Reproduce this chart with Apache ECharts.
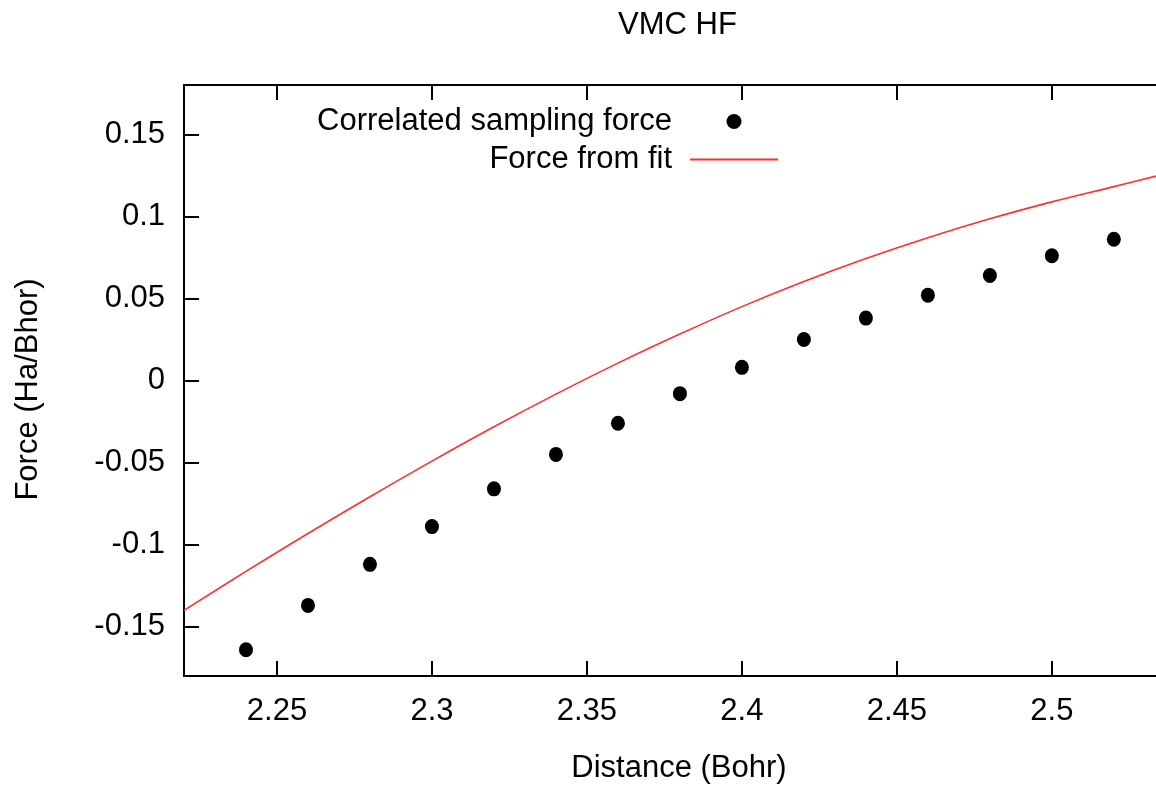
<!DOCTYPE html>
<html>
<head>
<meta charset="utf-8">
<script src="https://cdn.jsdelivr.net/npm/echarts@6/dist/echarts.min.js"></script>
<style>
  html, body { margin: 0; padding: 0; background: #fff; }
  #chart { width: 1156px; height: 789px; }
</style>
</head>
<body>
<div id="chart"></div>
<script>
// measured points (correlated sampling)
const sampleX = [2.24, 2.26, 2.28, 2.30, 2.32, 2.34, 2.36, 2.38, 2.40, 2.42, 2.44, 2.46, 2.48, 2.50, 2.52]
const sampleF = [-0.164, -0.137, -0.112, -0.089, -0.066, -0.045, -0.026, -0.008, 0.008, 0.025, 0.038, 0.052, 0.064, 0.076, 0.086]

// fitted force curve
const fitX = [2.22, 2.24, 2.26, 2.28, 2.30, 2.32, 2.34, 2.36, 2.38, 2.40, 2.42, 2.44, 2.46, 2.48, 2.50, 2.52, 2.5336]
const fitF = [-0.140, -0.1163, -0.0932, -0.0708, -0.0491, -0.0282, -0.0083, 0.0106, 0.0283, 0.045, 0.0603, 0.0743, 0.087, 0.0985, 0.1088, 0.1181, 0.1245]

// tick labels
const xTicks = [2.25, 2.3, 2.35, 2.4, 2.45, 2.5]
const yTicks = [-0.15, -0.1, -0.05, 0, 0.05, 0.1, 0.15]

const font = 'Liberation Sans, Helvetica, Arial, sans-serif'
const fs = 31

const chart = echarts.init(document.getElementById('chart'))

const axisLineStyle = { color: '#000', width: 2 }
const tickStyle = { color: '#000', width: 2 }

chart.setOption({
  animation: false,
  backgroundColor: '#fff',
  textStyle: { fontFamily: font },
  title: {
    text: 'VMC HF',
    left: 618,
    top: 10,
    padding: 0,
    textStyle: { fontFamily: font, fontSize: fs, fontWeight: 'normal', color: '#000' }
  },
  legend: {
    orient: 'vertical',
    align: 'right',
    right: 373,
    top: 101,
    itemWidth: 88,
    itemHeight: 15,
    itemGap: 7,
    textStyle: { fontFamily: font, fontSize: fs, color: '#000', padding: [0, 13, 0, 0] },
    data: [
      { name: 'Correlated sampling force', icon: 'circle', itemStyle: { color: '#000', opacity: 1 } },
      { name: 'Force from fit', icon: 'path://M0,0 L88,0 L88,2 L0,2 Z' }
    ]
  },
  grid: {
    left: 184,
    right: 0,
    top: 85,
    bottom: 113,
    containLabel: false,
    outerBoundsMode: 'none'
  },
  xAxis: [
    {
      type: 'value',
      min: 2.22,
      max: 2.5336,
      name: 'Distance (Bohr)',
      nameLocation: 'middle',
      nameGap: 77,
      nameTextStyle: { fontFamily: font, fontSize: fs, color: '#000', padding: [0, 0, 0, 18] },
      axisLine: { show: true, onZero: false, lineStyle: axisLineStyle },
      axisTick: { show: true, inside: true, length: 15, lineStyle: tickStyle, customValues: xTicks },
      axisLabel: { fontFamily: font, fontSize: fs, color: '#000', margin: 20, customValues: xTicks },
      splitLine: { show: false }
    },
    {
      type: 'value',
      position: 'top',
      min: 2.22,
      max: 2.5336,
      axisLine: { show: true, onZero: false, lineStyle: axisLineStyle },
      axisTick: { show: true, inside: true, length: 15, lineStyle: tickStyle, customValues: xTicks },
      axisLabel: { show: false },
      splitLine: { show: false }
    }
  ],
  yAxis: {
    type: 'value',
    min: -0.18,
    max: 0.18,
    name: 'Force (Ha/Bhor)',
    nameLocation: 'middle',
    nameRotate: 90,
    nameGap: 140,
    nameTextStyle: { fontFamily: font, fontSize: fs, color: '#000', padding: [0, 18, 0, 0] },
    axisLine: { show: true, onZero: false, lineStyle: axisLineStyle },
    axisTick: { show: true, inside: true, length: 15, lineStyle: tickStyle, customValues: yTicks },
    axisLabel: { fontFamily: font, fontSize: fs, color: '#000', margin: 19, customValues: yTicks },
    splitLine: { show: false }
  },
  series: [
    {
      name: 'Correlated sampling force',
      type: 'scatter',
      symbol: 'circle',
      symbolSize: [14, 15],
      itemStyle: { color: '#000', opacity: 1 },
      data: sampleX.map((x, i) => [x, sampleF[i]])
    },
    {
      name: 'Force from fit',
      type: 'line',
      symbol: 'none',
      smooth: 0.4,
      lineStyle: { color: '#ff3030', width: 1.6 },
      itemStyle: { color: '#ff3030' },
      data: fitX.map((x, i) => [x, fitF[i]])
    }
  ]
})
</script>
</body>
</html>
